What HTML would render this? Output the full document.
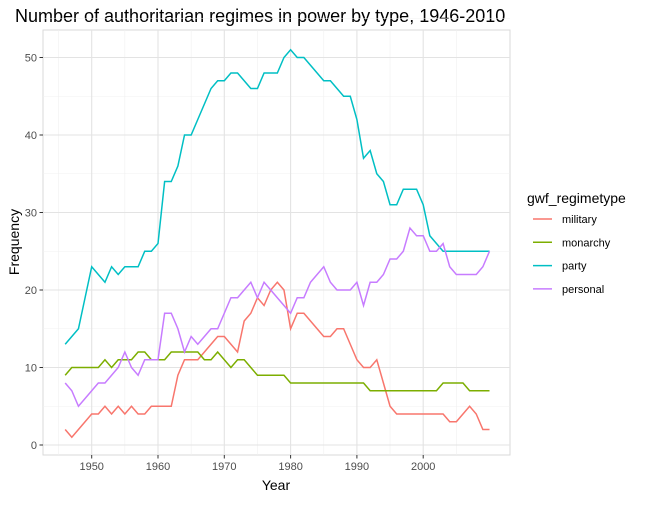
<!DOCTYPE html>
<html><head><meta charset="utf-8"><style>
body{margin:0;background:#fff;}
svg{font-family:"Liberation Sans",Arial,sans-serif;}
</style></head><body>
<svg id="chart" width="650" height="500" xmlns="http://www.w3.org/2000/svg">
<text x="15" y="22" font-size="18" fill="#000">Number of authoritarian regimes in power by type, 1946-2010</text>
<rect x="43" y="30" width="467" height="425" fill="#fff" stroke="#d9d9d9" stroke-width="1"/>
<g id="grid"></g>
<g id="series"></g>
<g id="axes"></g>
<text x="276" y="490" font-size="14" text-anchor="middle" fill="#000">Year</text>
<text x="19" y="242" font-size="14" text-anchor="middle" fill="#000" transform="rotate(-90 19 242)">Frequency</text>
<g>
<text x="527" y="203" font-size="14" fill="#000">gwf_regimetype</text>
<g id="legend-entries"></g>
</g>
</svg>
<script>
const years = [];
for (let y = 1946; y <= 2010; y++) years.push(y);
const military = [2,1,2,3,4,4,5,4,5,4,5,4,4,5,5,5,5,9,11,11,11,12,13,14,14,13,12,16,17,19,18,20,21,20,15,17,17,16,15,14,14,15,15,13,11,10,10,11,8,5,4,4,4,4,4,4,4,4,3,3,4,5,4,2,2];
const monarchy = [9,10,10,10,10,10,11,10,11,11,11,12,12,11,11,11,12,12,12,12,12,11,11,12,11,10,11,11,10,9,9,9,9,9,8,8,8,8,8,8,8,8,8,8,8,8,7,7,7,7,7,7,7,7,7,7,7,8,8,8,8,7,7,7,7];
const party = [13,14,15,19,23,22,21,23,22,23,23,23,25,25,26,34,34,36,40,40,42,44,46,47,47,48,48,47,46,46,48,48,48,50,51,50,50,49,48,47,47,46,45,45,42,37,38,35,34,31,31,33,33,33,31,27,26,25,25,25,25,25,25,25,25];
const personal = [8,7,5,6,7,8,8,9,10,12,10,9,11,11,11,17,17,15,12,14,13,14,15,15,17,19,19,20,21,19,21,20,19,18,17,19,19,21,22,23,21,20,20,20,21,18,21,21,22,24,24,25,28,27,27,25,25,26,23,22,22,22,22,23,25];
const seriesNames = ["military","monarchy","party","personal"];
const seriesColors = ["#F8766D","#7CAE00","#00BFC4","#C77CFF"];
const xTicks = [1950,1960,1970,1980,1990,2000];
const yTicks = [0,10,20,30,40,50];

const NS = "http://www.w3.org/2000/svg";
const xScale = v => 91.7 + (v - 1950) * 6.63;
const yScale = v => 445 - v * 7.75;
function mk(tag, attrs, parent){const e=document.createElementNS(NS,tag);for(const k in attrs)e.setAttribute(k,attrs[k]);parent.appendChild(e);return e;}
const grid=document.getElementById('grid'), axes=document.getElementById('axes'), ser=document.getElementById('series');
// minor grid
for (let i=0;i<xTicks.length+1;i++){const v=xTicks[0]-5+i*10; if(xScale(v)>43&&xScale(v)<510){const l=mk('line',{x1:xScale(v),x2:xScale(v),y1:30,y2:455,stroke:'#f0f0f0','stroke-width':0.6},grid);}}
for (let i=0;i<yTicks.length;i++){const v=yTicks[i]+5; const l=mk('line',{x1:43,x2:510,y1:yScale(v),y2:yScale(v),stroke:'#f0f0f0','stroke-width':0.6},grid);}
xTicks.forEach(v=>{const l=mk('line',{x1:xScale(v),x2:xScale(v),y1:30,y2:455,stroke:'#e3e3e3','stroke-width':1.1},grid);
const t=mk('line',{x1:xScale(v),x2:xScale(v),y1:455,y2:458.5,stroke:'#333','stroke-width':1},axes);
const tx=mk('text',{x:xScale(v),y:470,'font-size':11,'text-anchor':'middle',fill:'#4d4d4d'},axes);tx.textContent=v;});
yTicks.forEach(v=>{const l=mk('line',{x1:43,x2:510,y1:yScale(v),y2:yScale(v),stroke:'#e3e3e3','stroke-width':1.1},grid);
const t=mk('line',{x1:39.5,x2:43,y1:yScale(v),y2:yScale(v),stroke:'#333','stroke-width':1},axes);
const tx=mk('text',{x:37,y:yScale(v)+4,'font-size':11,'text-anchor':'end',fill:'#4d4d4d'},axes);tx.textContent=v;});
const data=[military,monarchy,party,personal];
data.forEach((arr,si)=>{const d=arr.map((v,i)=>(i?'L':'M')+xScale(years[i]).toFixed(2)+','+yScale(v).toFixed(2)).join(' ');
const p=mk('path',{d:d,fill:'none',stroke:seriesColors[si],'stroke-width':1.5},ser);});
const le=document.getElementById('legend-entries');
seriesNames.forEach((n,i)=>{const cy=219+i*23.3;
const l=mk('line',{x1:533,x2:552,y1:cy,y2:cy,stroke:seriesColors[i],'stroke-width':1.5},le);
const t=mk('text',{x:562,y:cy+4,'font-size':11,fill:'#000'},le);t.textContent=n;});
</script>
</body></html>
